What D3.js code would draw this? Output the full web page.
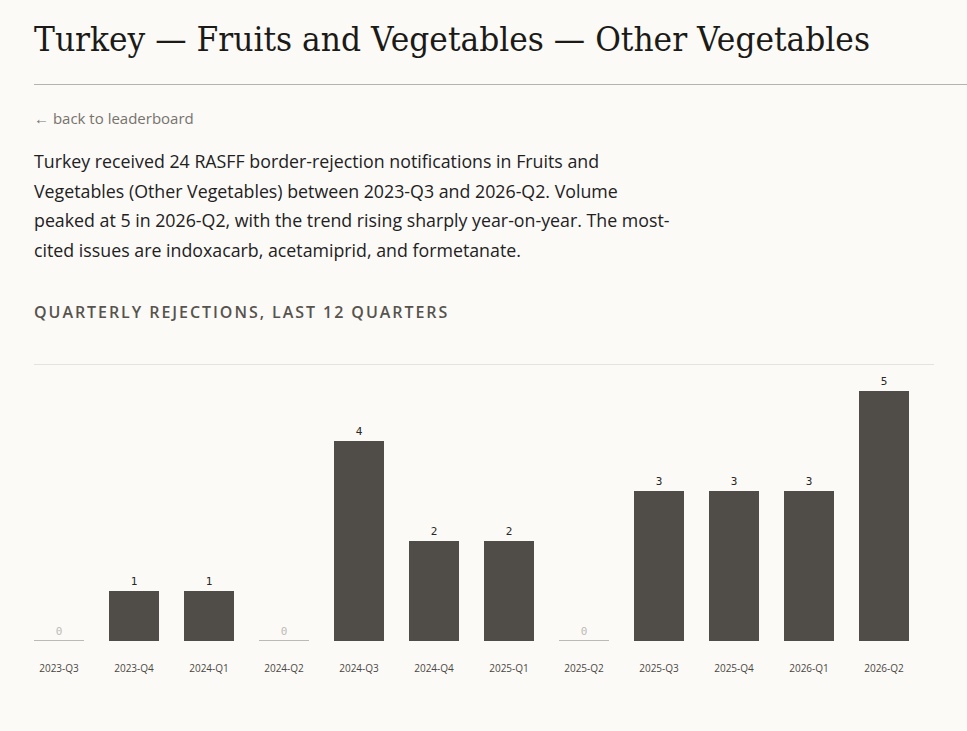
<!DOCTYPE html>
<html>
<head>
<meta charset="utf-8">
<script src="https://d3js.org/d3.v7.min.js"></script>
<style>
  html, body { margin: 0; padding: 0; background: #fbfaf7; }
  svg { display: block; }
</style>
</head>
<body>
<div id="chart"></div>
<script>
  // data
  const quarters = ['2023-Q3', '2023-Q4', '2024-Q1', '2024-Q2', '2024-Q3', '2024-Q4',
                    '2025-Q1', '2025-Q2', '2025-Q3', '2025-Q4', '2026-Q1', '2026-Q2'];
  const rejections = [0, 1, 1, 0, 4, 2, 2, 0, 3, 3, 3, 5];

  const titleText = 'Turkey \u2014 Fruits and Vegetables \u2014 Other Vegetables';
  const backText = '\u2190 back to leaderboard';
  const introLines = [
    'Turkey received 24 RASFF border-rejection notifications in Fruits and',
    'Vegetables (Other Vegetables) between 2023-Q3 and 2026-Q2. Volume',
    'peaked at 5 in 2026-Q2, with the trend rising sharply year-on-year. The most-',
    'cited issues are indoxacarb, acetamiprid, and formetanate.'
  ];
  const sectionText = 'QUARTERLY REJECTIONS, LAST 12 QUARTERS';

  const width = 967, height = 731;
  const left = 34, right = 934;

  let svg = d3.select('#chart').append('svg')
    .attr('width', width)
    .attr('height', height);

  svg.append('rect').attr('width', width).attr('height', height).attr('fill', '#fbfaf7');

  // header
  svg.append('text')
    .attr('x', left).attr('y', 51)
    .attr('font-family', 'DejaVu Serif, Georgia, serif')
    .attr('font-size', 34)
    .attr('fill', '#1c1a17')
    .attr('textLength', 836)
    .attr('lengthAdjust', 'spacingAndGlyphs')
    .text(titleText);

  svg.append('line')
    .attr('x1', left).attr('x2', width)
    .attr('y1', 84.5).attr('y2', 84.5)
    .attr('stroke', '#b5b3ae').attr('stroke-width', 1);

  svg.append('text')
    .attr('x', left).attr('y', 124)
    .attr('font-family', 'Open Sans, Noto Sans, sans-serif')
    .attr('font-size', 15)
    .attr('fill', '#77736d')
    .text(backText);

  svg.selectAll('.intro')
    .data(introLines)
    .enter().append('text')
    .attr('class', 'intro')
    .attr('x', left)
    .attr('y', (d, i) => 168 + i * 29.5)
    .attr('font-family', 'Open Sans, Noto Sans, sans-serif')
    .attr('font-size', 17.8)
    .attr('fill', '#23211e')
    .text(d => d);

  svg.append('text')
    .attr('x', left).attr('y', 318)
    .attr('font-family', 'Open Sans, Noto Sans, sans-serif')
    .attr('font-size', 16)
    .attr('font-weight', 600)
    .attr('letter-spacing', 1.95)
    .attr('fill', '#57534d')
    .text(sectionText);

  // chart
  const baseY = 641;
  const x = d3.scaleBand()
    .domain(quarters)
    .range([left, right])
    .paddingInner(1 / 3)
    .paddingOuter(1 / 6)
    .align(0);

  const y = d3.scaleLinear()
    .domain([0, 5])
    .range([baseY, 391]);

  svg.append('line')
    .attr('x1', left).attr('x2', right)
    .attr('y1', 364.5).attr('y2', 364.5)
    .attr('stroke', '#e6e3de').attr('stroke-width', 1);

  const data = quarters.map((q, i) => ({q: q, v: rejections[i]}));

  svg.selectAll('.bar')
    .data(data.filter(d => d.v > 0))
    .enter().append('rect')
    .attr('class', 'bar')
    .attr('x', d => x(d.q))
    .attr('y', d => y(d.v))
    .attr('width', x.bandwidth())
    .attr('height', d => y(0) - y(d.v))
    .attr('fill', '#504c47');

  svg.selectAll('.zero')
    .data(data.filter(d => d.v === 0))
    .enter().append('line')
    .attr('class', 'zero')
    .attr('x1', d => x(d.q)).attr('x2', d => x(d.q) + x.bandwidth())
    .attr('y1', baseY - 0.5).attr('y2', baseY - 0.5)
    .attr('stroke', '#bdbab5').attr('stroke-width', 1);

  svg.selectAll('.val')
    .data(data)
    .enter().append('text')
    .attr('class', 'val')
    .attr('x', d => x(d.q) + x.bandwidth() / 2)
    .attr('y', d => y(d.v) - 6)
    .attr('text-anchor', 'middle')
    .attr('font-family', 'DejaVu Sans Mono, monospace')
    .attr('font-size', 11)
    .attr('fill', d => d.v === 0 ? '#bdbab5' : '#2a2825')
    .text(d => d.v);

  svg.selectAll('.tick')
    .data(quarters)
    .enter().append('text')
    .attr('class', 'tick')
    .attr('x', d => x(d) + x.bandwidth() / 2)
    .attr('y', 672)
    .attr('text-anchor', 'middle')
    .attr('font-family', 'Open Sans, Noto Sans, sans-serif')
    .attr('font-size', 10)
    .attr('fill', '#4a4742')
    .text(d => d);
</script>
</body>
</html>
